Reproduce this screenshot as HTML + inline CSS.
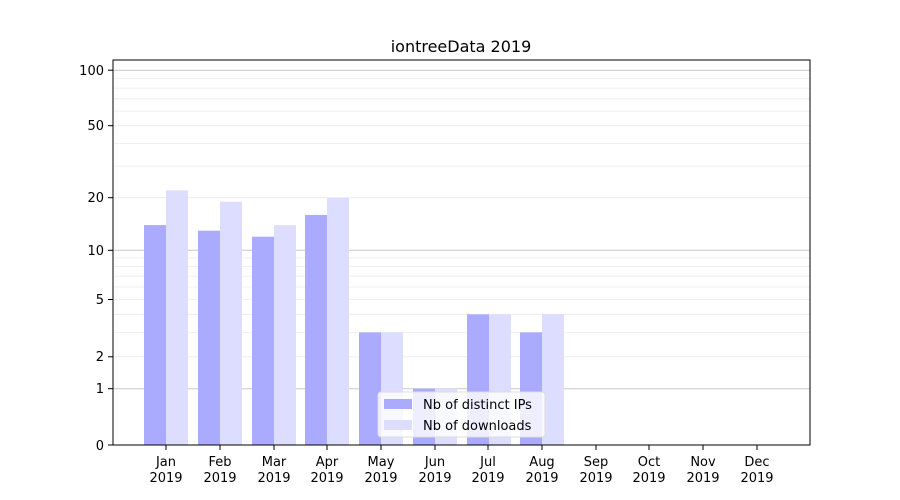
<!DOCTYPE html>
<html><head><style>body{margin:0;background:#fff}svg{display:block}text{font-family:"DejaVu Sans","Liberation Sans",sans-serif;font-size:13px;fill:#000}</style></head>
<body>
<svg width="900" height="500" xmlns="http://www.w3.org/2000/svg">
<rect width="900" height="500" fill="#fff"/>
<g stroke="#ebebeb" stroke-width="0.8">
<line x1="113" x2="810" y1="356.8" y2="356.8"/><line x1="113" x2="810" y1="332.4" y2="332.4"/><line x1="113" x2="810" y1="314.3" y2="314.3"/><line x1="113" x2="810" y1="299.5" y2="299.5"/><line x1="113" x2="810" y1="287" y2="287"/><line x1="113" x2="810" y1="276.1" y2="276.1"/><line x1="113" x2="810" y1="266.6" y2="266.6"/><line x1="113" x2="810" y1="257.9" y2="257.9"/>
<line x1="113" x2="810" y1="197.7" y2="197.7"/><line x1="113" x2="810" y1="166.1" y2="166.1"/><line x1="113" x2="810" y1="143.4" y2="143.4"/><line x1="113" x2="810" y1="125.7" y2="125.7"/><line x1="113" x2="810" y1="111.1" y2="111.1"/><line x1="113" x2="810" y1="98.8" y2="98.8"/><line x1="113" x2="810" y1="88.1" y2="88.1"/><line x1="113" x2="810" y1="78.6" y2="78.6"/>
</g>
<g stroke="#c8c8c8" stroke-width="1"><line x1="113" x2="810" y1="388.7" y2="388.7"/><line x1="113" x2="810" y1="250.3" y2="250.3"/><line x1="113" x2="810" y1="70.2" y2="70.2"/></g>
<g fill="#aaaaff">
<rect x="144" y="225.1" width="22" height="219.9"/><rect x="198" y="230.7" width="22" height="214.3"/><rect x="252" y="236.7" width="22" height="208.3"/><rect x="305" y="214.9" width="22" height="230.1"/><rect x="359" y="332.4" width="22" height="112.6"/><rect x="413" y="388.7" width="22" height="56.3"/><rect x="467" y="314.3" width="22" height="130.7"/><rect x="520" y="332.4" width="22" height="112.6"/>
</g>
<g fill="#ddddff">
<rect x="166" y="190.4" width="22" height="254.6"/><rect x="220" y="201.7" width="22" height="243.3"/><rect x="274" y="225.1" width="22" height="219.9"/><rect x="327" y="197.7" width="22" height="247.3"/><rect x="381" y="332.4" width="22" height="112.6"/><rect x="435" y="388.7" width="22" height="56.3"/><rect x="489" y="314.3" width="22" height="130.7"/><rect x="542" y="314.3" width="22" height="130.7"/>
</g>
<rect x="113" y="60" width="697" height="385" fill="none" stroke="#000" stroke-width="1"/>
<g stroke="#000"><line x1="108" x2="113" y1="445" y2="445"/><line x1="108" x2="113" y1="388.7" y2="388.7"/><line x1="108" x2="113" y1="356.8" y2="356.8"/><line x1="108" x2="113" y1="299.5" y2="299.5"/><line x1="108" x2="113" y1="250.3" y2="250.3"/><line x1="108" x2="113" y1="197.7" y2="197.7"/><line x1="108" x2="113" y1="125.7" y2="125.7"/><line x1="108" x2="113" y1="70.2" y2="70.2"/></g>
<g text-anchor="end"><text x="104" y="450">0</text><text x="104" y="393">1</text><text x="104" y="361">2</text><text x="104" y="304">5</text><text x="104" y="255">10</text><text x="104" y="202">20</text><text x="104" y="130">50</text><text x="104" y="75">100</text></g>
<g text-anchor="middle">
<text x="166" y="466">Jan</text><text x="166" y="482">2019</text>
<text x="220" y="466">Feb</text><text x="220" y="482">2019</text>
<text x="274" y="466">Mar</text><text x="274" y="482">2019</text>
<text x="327" y="466">Apr</text><text x="327" y="482">2019</text>
<text x="381" y="466">May</text><text x="381" y="482">2019</text>
<text x="435" y="466">Jun</text><text x="435" y="482">2019</text>
<text x="488" y="466">Jul</text><text x="488" y="482">2019</text>
<text x="542" y="466">Aug</text><text x="542" y="482">2019</text>
<text x="596" y="466">Sep</text><text x="596" y="482">2019</text>
<text x="649" y="466">Oct</text><text x="649" y="482">2019</text>
<text x="703" y="466">Nov</text><text x="703" y="482">2019</text>
<text x="757" y="466">Dec</text><text x="757" y="482">2019</text>
<text x="461" y="52" style="font-size:16px">iontreeData 2019</text>
</g>
<g stroke="#000"><line x1="166" x2="166" y1="445" y2="450"/><line x1="220" x2="220" y1="445" y2="450"/><line x1="274" x2="274" y1="445" y2="450"/><line x1="327" x2="327" y1="445" y2="450"/><line x1="381" x2="381" y1="445" y2="450"/><line x1="435" x2="435" y1="445" y2="450"/><line x1="488" x2="488" y1="445" y2="450"/><line x1="542" x2="542" y1="445" y2="450"/><line x1="596" x2="596" y1="445" y2="450"/><line x1="649" x2="649" y1="445" y2="450"/><line x1="703" x2="703" y1="445" y2="450"/><line x1="757" x2="757" y1="445" y2="450"/></g>
<rect x="378" y="392" width="167" height="45" rx="3" fill="#fff" fill-opacity="0.8" stroke="#ddd"/>
<rect x="384" y="399" width="28" height="10" fill="#aaaaff"/>
<rect x="384" y="420" width="28" height="10" fill="#ddddff"/>
<text x="423" y="409">Nb of distinct IPs</text>
<text x="423" y="430">Nb of downloads</text>
</svg>
</body></html>
